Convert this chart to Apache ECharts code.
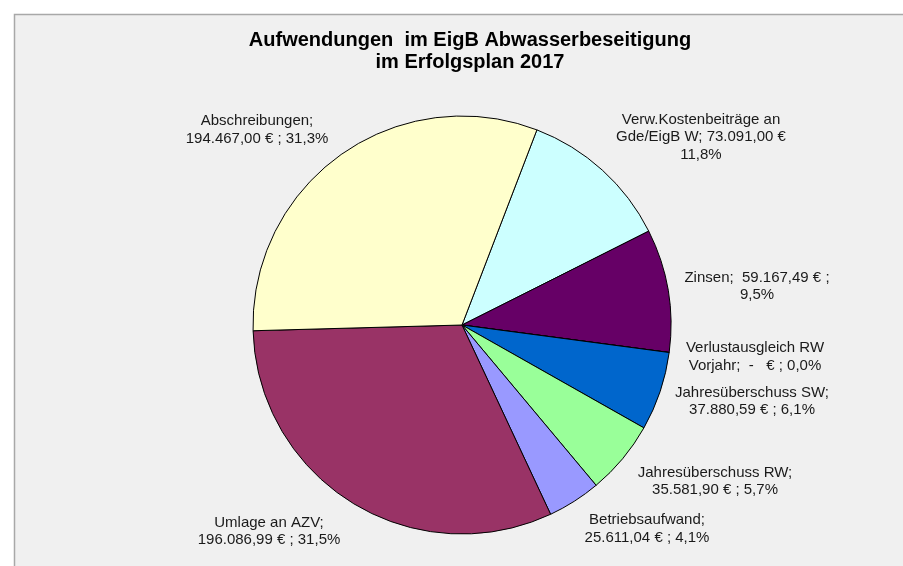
<!DOCTYPE html>
<html>
<head>
<meta charset="utf-8">
<script src="https://cdn.jsdelivr.net/npm/echarts@6/dist/echarts.min.js"></script>
<style>html,body{margin:0;padding:0;background:#fff;}#c{width:903px;height:566px;}</style>
</head>
<body>
<div id="c"></div>
<script>
// ---- data ----
const categories = [
  'Verw.Kostenbeiträge an Gde/EigB W',
  'Zinsen',
  'Verlustausgleich RW Vorjahr',
  'Jahresüberschuss SW',
  'Jahresüberschuss RW',
  'Betriebsaufwand',
  'Umlage an AZV',
  'Abschreibungen'
];
const values = [73091.00, 59167.49, 0, 37880.59, 35581.90, 25611.04, 196086.99, 194467.00];
const colors = ['#CCFFFF', '#660066', '#993300', '#0066CC', '#99FF99', '#9999FF', '#993366', '#FFFFCC'];
// label text templates ({v} value, {p} percent)
const labelTemplates = [
  'Verw.Kostenbeiträge an\nGde/EigB W; {v}\n{p}',
  'Zinsen;  {v} ;\n{p}',
  'Verlustausgleich RW\nVorjahr; {v} ; {p}',
  'Jahresüberschuss SW;\n{v} ; {p}',
  'Jahresüberschuss RW;\n{v} ; {p}',
  'Betriebsaufwand;\n{v} ; {p}',
  'Umlage an AZV;\n{v} ; {p}',
  'Abschreibungen;\n{v} ; {p}'
];
// label centre positions [x, y]
const labelPos = [
  [701, 137], [757, 286.5], [755, 357], [752, 401.5],
  [715, 481.5], [647, 529], [269, 531.5], [257, 130]
];

const total = values.reduce((a, b) => a + b, 0);
function fmtEuro(v) {
  if (v === 0) return ' -   €';
  const parts = v.toFixed(2).split('.');
  const int = parts[0].replace(/\B(?=(\d{3})+(?!\d))/g, '.');
  return int + ',' + parts[1] + ' €';
}
function fmtPct(v) { return (v / total * 100).toFixed(1).replace('.', ',') + '%'; }

const chart = echarts.init(document.getElementById('c'), null, {renderer: 'canvas'});
const FONT = '"Liberation Sans", Arial, sans-serif';
chart.setOption({
  backgroundColor: '#ffffff',
  animation: false,
  graphic: [
    {type: 'rect', z: -10, shape: {x: 14.5, y: 14.5, width: 900, height: 560},
     style: {fill: '#f0f0f0', stroke: '#a8a8a8', lineWidth: 1.5}},
    {type: 'text', z: 10, x: 470, y: 51,
     style: {text: 'Aufwendungen  im EigB Abwasserbeseitigung\nim Erfolgsplan 2017',
             font: 'bold 20px ' + FONT, fill: '#000', textAlign: 'center', textVerticalAlign: 'middle',
             lineHeight: 22}}
  ],
  series: [{
    type: 'pie',
    center: [462, 325],
    radius: 209,
    startAngle: 69,
    clockwise: true,
    avoidLabelOverlap: false,
    stillShowZeroSum: true,
    data: categories.map((n, i) => ({name: n, value: values[i], itemStyle: {color: colors[i]}})),
    itemStyle: {borderColor: '#000', borderWidth: 1},
    label: {
      show: true,
      position: 'outside',
      color: '#1a1a1a',
      fontFamily: FONT,
      fontSize: 15,
      lineHeight: 17.5,
      formatter: p => labelTemplates[p.dataIndex].replace('{v}', fmtEuro(values[p.dataIndex])).replace('{p}', fmtPct(values[p.dataIndex]))
    },
    labelLine: {show: false},
    labelLayout: p => ({x: labelPos[p.dataIndex][0], y: labelPos[p.dataIndex][1], align: 'center', verticalAlign: 'middle'}),
    emphasis: {disabled: true}
  }]
});
</script>
</body>
</html>
